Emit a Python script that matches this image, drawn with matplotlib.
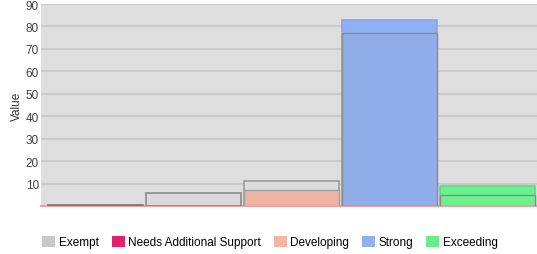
import matplotlib
matplotlib.use("Agg")
import matplotlib.pyplot as plt
from matplotlib.patches import Patch

categories = ["Exempt", "Needs Additional Support", "Developing", "Strong", "Exceeding"]
outer_values = [0.4, 6, 11, 83, 9]
inner_values = [0, 0, 7, 77, 5]
y_ticks = [10, 20, 30, 40, 50, 60, 70, 80, 90]

legend_colors = ["#c8c8c8", "#e3206e", "#f7b4a4", "#92b0ee", "#66ee88"]
outer_fill = ["#d8d8d8", "#d9d9d9", "#dcdcdc", "#8fb0f5", "#68f28e"]
outer_edge = ["#777777", "#8a8a8a", "#9a9a9a", "#88a6e6", "#5fd880"]
inner_fill = ["#d8d8d8", "#e3206e", "#f0b2a5", "#92aeea", "#6ef08e"]
inner_edge = ["#888888", "#888888", "#a0a0a0", "#8a8a8a", "#8a8a8a"]

plt.rcParams['font.family'] = ['Liberation Sans', 'DejaVu Sans']
fig = plt.figure(figsize=(5.37, 2.55), dpi=100)
ax = fig.add_axes([41/537, 48/255, 496/537, 202/255])
ax.set_facecolor("#dedede")

x = list(range(len(categories)))
ax.bar(x, outer_values, width=0.975, color=outer_fill, edgecolor=outer_edge, linewidth=1.2, zorder=3)
ax.bar(x, inner_values, width=0.975, color=inner_fill, edgecolor=inner_edge, linewidth=1.0, zorder=4)

ax.set_ylim(0, 90)
ax.set_xlim(-0.556, 4.505)
ax.set_yticks(y_ticks)
ax.set_yticklabels([str(t) for t in y_ticks], fontsize=8.5, color="#404040")
ax.set_xticks([])
ax.tick_params(axis='y', length=0, pad=1.5)
ax.yaxis.grid(True, color="#cbcbcb", linewidth=1.5, zorder=0)
ax.set_axisbelow(True)
for s in ["top", "right", "left"]:
    ax.spines[s].set_visible(False)
ax.spines["bottom"].set_color("#f0a0a0")
ax.spines["bottom"].set_linewidth(1.5)
ax.set_ylabel("Value", fontsize=8.5, color="#333333", labelpad=2)

handles = [Patch(facecolor=c, edgecolor='none') for c in legend_colors]
fig.legend(handles, categories, loc="center", bbox_to_anchor=(270/537, 1 - 243/255),
           ncol=5, frameon=False, fontsize=8.5, handlelength=1.1, handleheight=1.1,
           handletextpad=0.3, columnspacing=1.1)

fig.savefig("out.png", dpi=100)
